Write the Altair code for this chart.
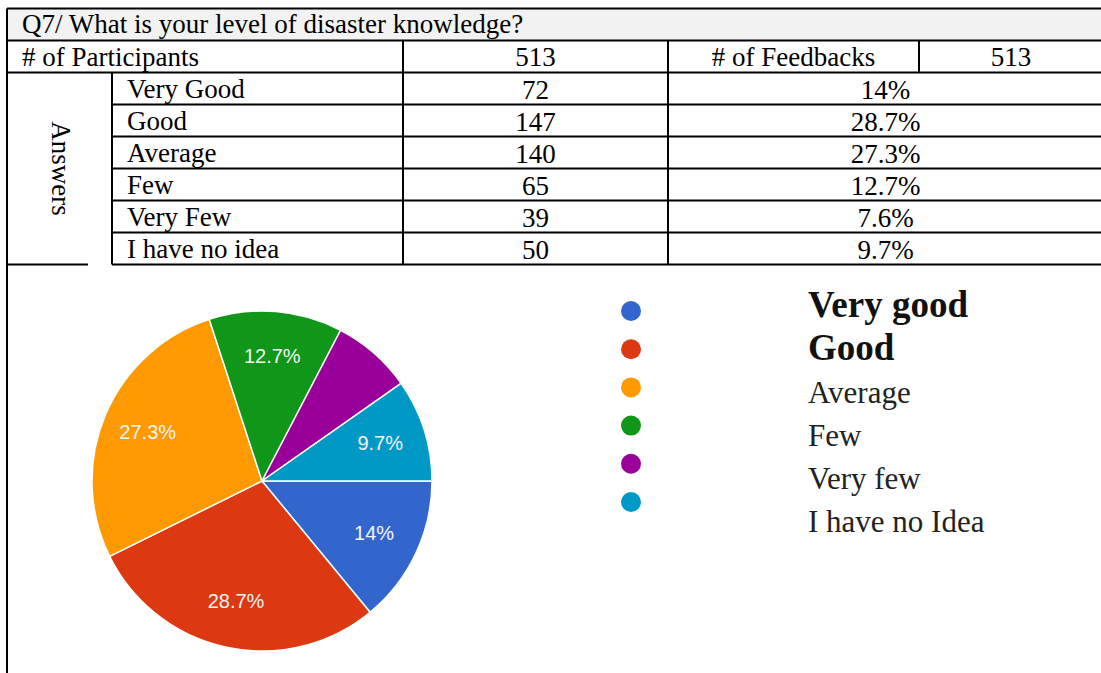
import math
import altair as alt
import pandas as pd

# ---------------- data ----------------
title_text = "Q7/ What is your level of disaster knowledge?"
participants_label = "# of Participants"
participants = 513
feedbacks_label = "# of Feedbacks"
feedbacks = 513
side_label = "Answers"

answers = ["Very Good", "Good", "Average", "Few", "Very Few", "I have no idea"]
counts = [72, 147, 140, 65, 39, 50]
percents = ["14%", "28.7%", "27.3%", "12.7%", "7.6%", "9.7%"]
pie_labels = ["14%", "28.7%", "27.3%", "12.7%", "", "9.7%"]
legend_labels = ["Very good", "Good", "Average", "Few", "Very few", "I have no Idea"]
legend_bold = [True, True, False, False, False, False]
colors = ["#3366CC", "#DC3912", "#FF9900", "#109618", "#990099", "#0099C6"]

# ---------------- layout ----------------
W, H = 1101, 673
top = 8.5
row_h = 32
left = 7
right = 1101
c1, c2, c3, c4 = 112, 403, 668, 919
rows_y = [top + row_h * k for k in range(9)]  # row boundaries
serif = "Liberation Serif"
fs = 27

X = alt.X("x:Q", scale=alt.Scale(domain=[0, W], nice=False, zero=False), axis=None)
Y = alt.Y("y:Q", scale=alt.Scale(domain=[0, H], nice=False, zero=False, reverse=True), axis=None)

# grid lines
lines = []
for k in range(3):
    lines.append(dict(x=left, x2=right, y=rows_y[k], y2=rows_y[k]))
for k in range(3, 8):
    lines.append(dict(x=c1, x2=right, y=rows_y[k], y2=rows_y[k]))
lines.append(dict(x=left, x2=88, y=rows_y[8], y2=rows_y[8]))
lines.append(dict(x=c1, x2=right, y=rows_y[8], y2=rows_y[8]))
lines.append(dict(x=left, x2=left, y=top, y2=H))
lines.append(dict(x=c1, x2=c1, y=rows_y[2], y2=rows_y[8]))
lines.append(dict(x=c2, x2=c2, y=rows_y[1], y2=rows_y[8]))
lines.append(dict(x=c3, x2=c3, y=rows_y[1], y2=rows_y[8]))
lines.append(dict(x=c4, x2=c4, y=rows_y[1], y2=rows_y[2]))
df_lines = pd.DataFrame(lines)

df_bg = pd.DataFrame([dict(x=left, x2=right, y=rows_y[0], y2=rows_y[1])])

bg = alt.Chart(df_bg).mark_rect(color="#f2f2f2").encode(x=X, x2="x2:Q", y=Y, y2="y2:Q")
grid = alt.Chart(df_lines).mark_rule(color="#000000", strokeWidth=2).encode(
    x=X, x2="x2:Q", y=Y, y2="y2:Q"
)

base_off = 7
left_texts = [dict(x=22, y=rows_y[1] - base_off - 1, text=title_text),
              dict(x=22, y=rows_y[2] - base_off, text=participants_label)]
for i, a in enumerate(answers):
    left_texts.append(dict(x=127, y=rows_y[3 + i] - base_off + 0.5, text=a))
df_left = pd.DataFrame(left_texts)

center_texts = [dict(x=(c2 + c3) / 2, y=rows_y[2] - base_off, text=str(participants)),
                dict(x=(c3 + c4) / 2, y=rows_y[2] - base_off, text=feedbacks_label),
                dict(x=(c4 + 1103) / 2, y=rows_y[2] - base_off, text=str(feedbacks))]
for i in range(len(answers)):
    center_texts.append(dict(x=(c2 + c3) / 2, y=rows_y[3 + i] - 6, text=str(counts[i])))
    center_texts.append(dict(x=(c3 + 1103) / 2, y=rows_y[3 + i] - 6, text=percents[i]))
df_center = pd.DataFrame(center_texts)

t_left = alt.Chart(df_left).mark_text(
    align="left", baseline="alphabetic", font=serif, fontSize=fs, color="#000000"
).encode(x=X, y=Y, text="text:N")
t_center = alt.Chart(df_center).mark_text(
    align="center", baseline="alphabetic", font=serif, fontSize=fs, color="#000000"
).encode(x=X, y=Y, text="text:N")

df_side = pd.DataFrame([dict(x=(left + c1) / 2, y=(rows_y[2] + rows_y[8]) / 2, text=side_label)])
t_side = alt.Chart(df_side).mark_text(
    align="center", baseline="middle", angle=90, font=serif, fontSize=fs, color="#000000"
).encode(x=X, y=Y, text="text:N")

# ---------------- pie ----------------
df_pie = pd.DataFrame(dict(answer=answers, count=counts, idx=list(range(6)), label=pie_labels))
color_scale = alt.Scale(domain=answers, range=colors)
theta_scale = alt.Scale(range=[math.pi / 2, math.pi / 2 + 2 * math.pi])
cx, cy = 262, 481

arc = alt.Chart(df_pie).mark_arc(outerRadius=170, stroke="#ffffff", strokeWidth=1.5).encode(
    theta=alt.Theta("count:Q", stack=True, scale=theta_scale),
    color=alt.Color("answer:N", scale=color_scale, legend=None),
    order=alt.Order("idx:Q"),
    x=alt.value(cx), y=alt.value(cy),
)
arc_text = alt.Chart(df_pie).mark_text(
    radius=124, font="Liberation Sans Narrow, Arial Narrow, Liberation Sans, sans-serif",
    fontSize=20, color="#f4f4f4"
).encode(
    theta=alt.Theta("count:Q", stack=True, scale=theta_scale),
    text="label:N",
    detail="answer:N",
    order=alt.Order("idx:Q"),
    x=alt.value(cx), y=alt.value(cy),
)

# ---------------- legend ----------------
df_leg = pd.DataFrame(dict(
    answer=answers,
    label=legend_labels,
    bold=legend_bold,
    x=[631] * 6,
    y=[311 + 38.2 * i for i in range(6)],
    tx=[808] * 6,
    ty=[317 + 43 * i for i in range(6)],
))
TX = alt.X("tx:Q", scale=alt.Scale(domain=[0, W], nice=False, zero=False), axis=None)
TY = alt.Y("ty:Q", scale=alt.Scale(domain=[0, H], nice=False, zero=False, reverse=True), axis=None)
dots = alt.Chart(df_leg).mark_circle(size=400, opacity=1).encode(
    x=X, y=Y, color=alt.Color("answer:N", scale=color_scale, legend=None)
)
leg_bold = alt.Chart(df_leg).transform_filter("datum.bold").mark_text(
    align="left", baseline="alphabetic", font=serif, fontSize=37, fontWeight="bold", color="#111111"
).encode(x=TX, y=TY, text="label:N")
leg_reg = alt.Chart(df_leg).transform_filter("!datum.bold").mark_text(
    align="left", baseline="alphabetic", font=serif, fontSize=31, color="#222222"
).encode(x=TX, y=TY, text="label:N")

chart = alt.layer(bg, grid, t_left, t_center, t_side, arc, arc_text, dots, leg_bold, leg_reg).properties(
    width=W, height=H, padding=0, autosize=alt.AutoSizeParams(type="none"), background="#ffffff"
).configure_view(stroke=None)

chart.save("out.html", embed_options={"renderer": "svg", "actions": False})
